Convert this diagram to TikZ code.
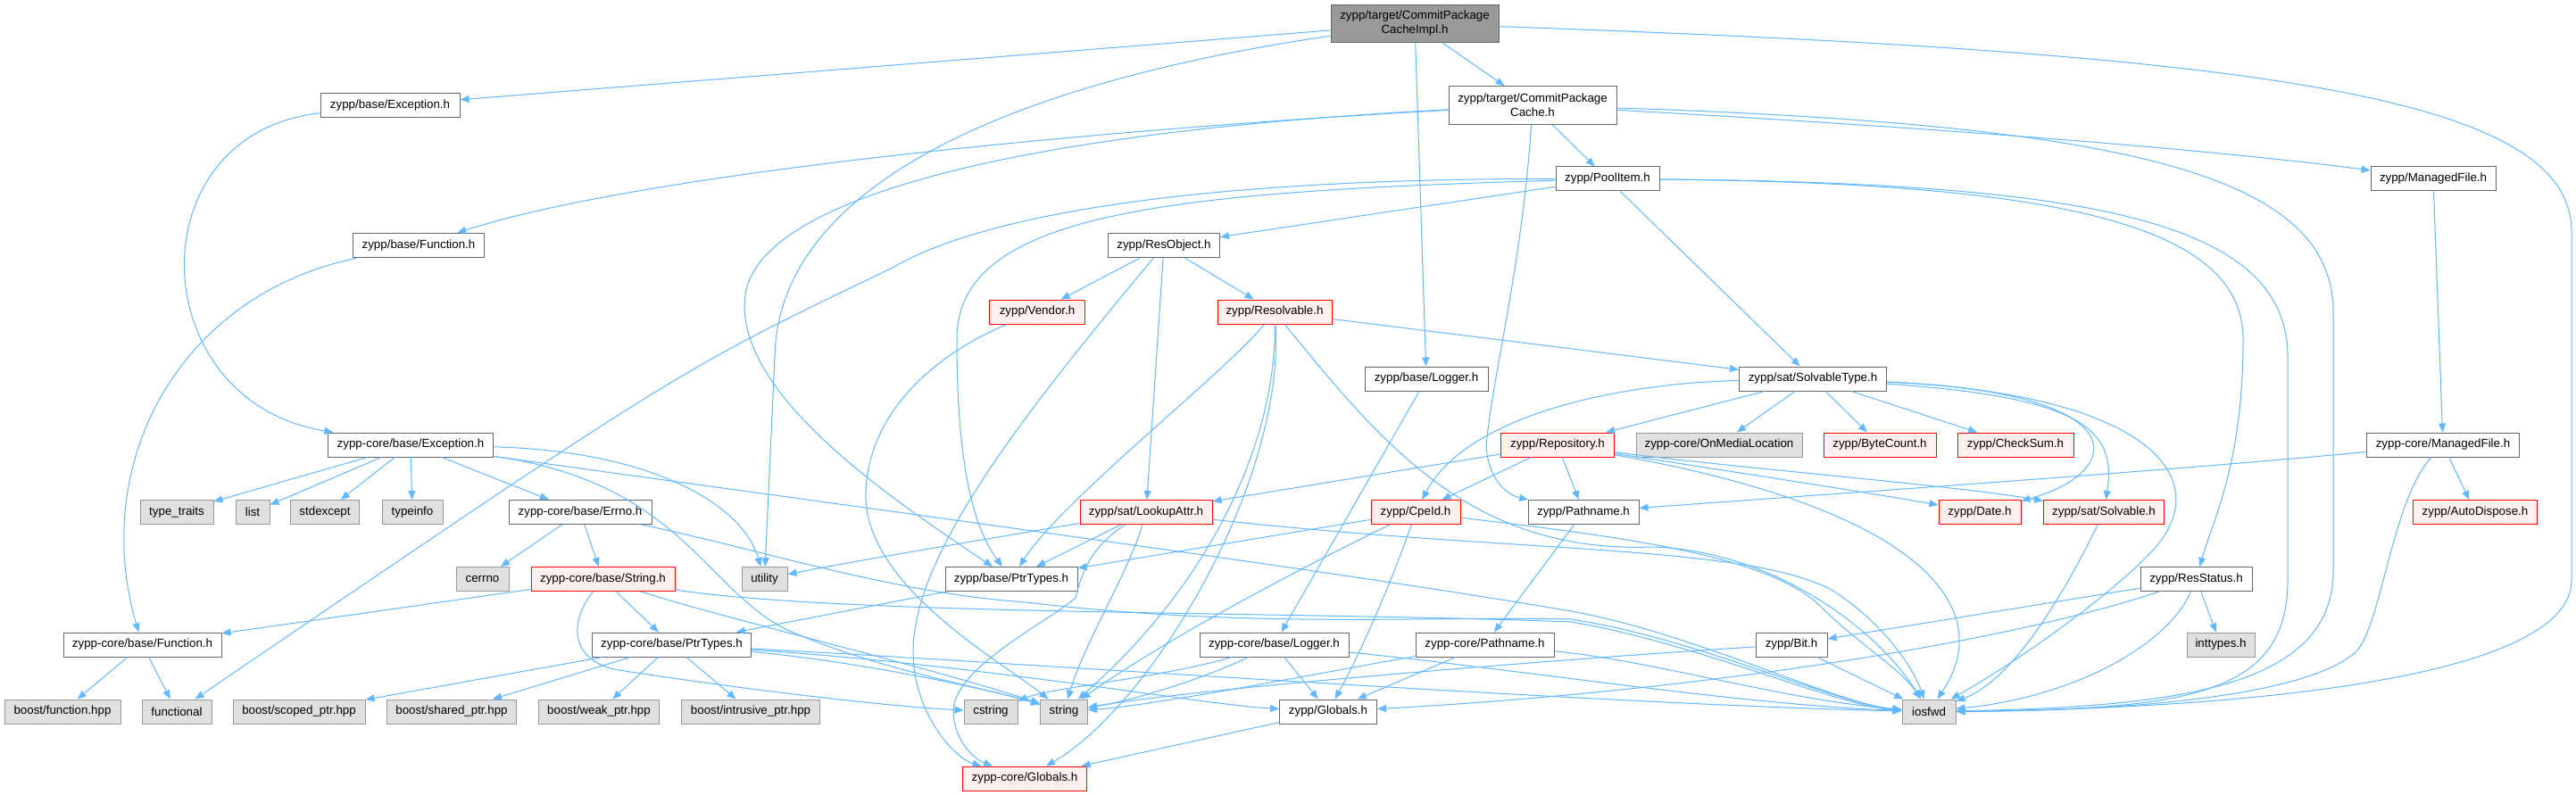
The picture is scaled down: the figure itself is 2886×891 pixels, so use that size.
\documentclass[tikz,border=0pt]{standalone}
\usepackage{fontspec}
\setmainfont{Liberation Sans}
\usepackage{xcolor}
\usetikzlibrary{arrows.meta}

\definecolor{depblue}{HTML}{63B8FF}
\definecolor{hdrline}{HTML}{666666}
\definecolor{sysline}{HTML}{999999}
\definecolor{sysfill}{HTML}{E0E0E0}
\definecolor{redfill}{HTML}{FFF0F0}
\definecolor{rootfill}{HTML}{999999}

\begin{document}
\begin{tikzpicture}[x=0.75pt,y=-0.75pt,
    hdr/.style={draw=hdrline,fill=white,line width=0.75pt,minimum width=#1*0.75pt,minimum height=20.25pt,inner xsep=3pt,inner ysep=0pt,font=\fontsize{10}{12}\selectfont},
    syshdr/.style={hdr=#1,draw=sysline,fill=sysfill},
    redhdr/.style={hdr=#1,draw=red,fill=redfill},
    twoline/.style={align=center,minimum height=32pt},
    dep/.style={draw=depblue,line width=0.75pt,-{Triangle[length=7.5pt,width=6pt]}}]

    \path[use as bounding box,fill=white] (0,0) rectangle (2886,891);

    \node[hdr=188,twoline,fill=rootfill] (IMPL) at (1585,26.5) {zypp/target/CommitPackage\\CacheImpl.h};
    \node[hdr=188,twoline] (CPC) at (1717,118) {zypp/target/CommitPackage\\Cache.h};
    \node[hdr=156] (BEXC) at (437,118) {zypp/base/Exception.h};
    \node[hdr=147] (BFUN) at (469,275) {zypp/base/Function.h};
    \node[hdr=116] (POOL) at (1801,200.5) {zypp/PoolItem.h};
    \node[hdr=140] (MFB) at (2726,200.5) {zypp/ManagedFile.h};
    \node[hdr=125] (RESOBJ) at (1304,275) {zypp/ResObject.h};
    \node[redhdr=107] (VENDOR) at (1162,349.5) {zypp/Vendor.h};
    \node[redhdr=128] (RESOLV) at (1428,349.5) {zypp/Resolvable.h};
    \node[hdr=138] (BLOG) at (1598,424.5) {zypp/base/Logger.h};
    \node[hdr=165] (SOLTYPE) at (2031,424.5) {zypp/sat/SolvableType.h};

    \node[hdr=185] (CEXC) at (460,498.5) {zypp-core/base/Exception.h};
    \node[redhdr=127] (REPO) at (1745,498.5) {zypp/Repository.h};
    \node[syshdr=186] (OML) at (1926,498.5) {zypp-core/OnMediaLocation};
    \node[redhdr=126] (BYTEC) at (2106,498.5) {zypp/ByteCount.h};
    \node[redhdr=130] (CHKSUM) at (2258,498.5) {zypp/CheckSum.h};
    \node[hdr=171] (CMF) at (2737,498.5) {zypp-core/ManagedFile.h};

    \node[syshdr=82] (TTRAITS) at (198,574) {type\_traits};
    \node[syshdr=38] (LIST) at (283,574) {list};
    \node[syshdr=77] (STDEXC) at (364,574) {stdexcept};
    \node[syshdr=68] (TINFO) at (462,574) {typeinfo};
    \node[hdr=160] (ERRNO) at (650,574) {zypp-core/base/Errno.h};
    \node[redhdr=148] (LOOKUP) at (1284,574) {zypp/sat/LookupAttr.h};
    \node[redhdr=100] (CPEID) at (1586,574) {zypp/CpeId.h};
    \node[hdr=124] (PATHB) at (1774,574) {zypp/Pathname.h};
    \node[redhdr=92] (DATE) at (2218,574) {zypp/Date.h};
    \node[redhdr=135] (SOLV) at (2357,574) {zypp/sat/Solvable.h};
    \node[redhdr=139] (AUTOD) at (2773,574) {zypp/AutoDispose.h};

    \node[syshdr=59] (CERRNO) at (540.5,649) {cerrno};
    \node[redhdr=161] (STRH) at (675.5,649) {zypp-core/base/String.h};
    \node[syshdr=51] (UTIL) at (856.5,649) {utility};
    \node[hdr=148] (BPTR) at (1133,649) {zypp/base/PtrTypes.h};
    \node[hdr=125] (RESSTAT) at (2460.5,649) {zypp/ResStatus.h};

    \node[hdr=177] (CFUN) at (159.5,722.5) {zypp-core/base/Function.h};
    \node[hdr=178] (CPTR) at (752.5,722.5) {zypp-core/base/PtrTypes.h};
    \node[hdr=167] (CLOG) at (1427.5,722.5) {zypp-core/base/Logger.h};
    \node[hdr=155] (CPATH) at (1663.5,722.5) {zypp-core/Pathname.h};
    \node[hdr=80] (BIT) at (2007,722.5) {zypp/Bit.h};
    \node[syshdr=76] (INTT) at (2488,722.5) {inttypes.h};

    \node[syshdr=130] (BFHPP) at (70,797.5) {boost/function.hpp};
    \node[syshdr=78] (FUNCT) at (198,797.5) {functional};
    \node[syshdr=148] (SCOPED) at (335,797.5) {boost/scoped\_ptr.hpp};
    \node[syshdr=145] (SHARED) at (506,797.5) {boost/shared\_ptr.hpp};
    \node[syshdr=135] (WEAK) at (671,797.5) {boost/weak\_ptr.hpp};
    \node[syshdr=155] (INTRUS) at (841,797.5) {boost/intrusive\_ptr.hpp};
    \node[syshdr=60] (CSTR) at (1110,797.5) {cstring};
    \node[syshdr=53] (STR) at (1192,797.5) {string};
    \node[hdr=109] (GLOB) at (1488,797.5) {zypp/Globals.h};
    \node[syshdr=60] (IOSFWD) at (2161,797.5) {iosfwd};

    \node[redhdr=139] (CGLOB) at (1148,872.5) {zypp-core/Globals.h};

    \draw[dep] (IMPL) -- (BEXC);
    \draw[dep] (IMPL) .. controls (1150,90) and (872,200) .. (868,400) -- (UTIL);
    \draw[dep] (IMPL) -- (BLOG);
    \draw[dep] (IMPL) -- (CPC);
    \draw[dep] (IMPL) .. controls (2550,60) and (2881,110) .. (2881,260) -- (2881,650) .. controls (2881,770) and (2450,795) .. (IOSFWD);

    \draw[dep] (CPC) .. controls (1150,150) and (700,200) .. (BFUN);
    \draw[dep] (CPC) .. controls (1100,150) and (850,230) .. (835,330) .. controls (820,440) and (1000,560) .. (BPTR);
    \draw[dep] (CPC) .. controls (1705,300) and (1672,420) .. (1665,500) .. controls (1668,540) and (1690,555) .. (PATHB);
    \draw[dep] (CPC) -- (POOL);
    \draw[dep] (CPC) .. controls (2200,145) and (2500,170) .. (MFB);
    \draw[dep] (CPC) .. controls (2400,140) and (2614,200) .. (2614,350) -- (2614,640) .. controls (2614,770) and (2440,792) .. (IOSFWD);

    \draw[dep] (BEXC) .. controls (150,150) and (160,450) .. (CEXC);
    \draw[dep] (BFUN) .. controls (200,330) and (100,520) .. (CFUN);

    \draw[dep] (POOL) .. controls (1400,200) and (1120,230) .. (1000,300) .. controls (760,415) .. (FUNCT);
    \draw[dep] (POOL) .. controls (1300,215) and (1072,240) .. (1072,380) .. controls (1072,520) and (1090,590) .. (BPTR);
    \draw[dep] (POOL) -- (RESOBJ);
    \draw[dep] (POOL) -- (SOLTYPE);
    \draw[dep] (POOL) .. controls (2300,205) and (2513,250) .. (2513,380) .. controls (2513,520) and (2480,580) .. (RESSTAT);
    \draw[dep] (POOL) .. controls (2350,205) and (2563,250) .. (2563,400) -- (2563,650) .. controls (2563,780) and (2450,795) .. (IOSFWD);

    \draw[dep] (MFB) -- (CMF);

    \draw[dep] (RESOBJ) -- (VENDOR);
    \draw[dep] (RESOBJ) -- (RESOLV);
    \draw[dep] (RESOBJ) -- (LOOKUP);
    \draw[dep] (RESOBJ) .. controls (1150,460) and (1023,620) .. (1023,730) .. controls (1023,800) and (1070,850) .. (CGLOB);

    \draw[dep] (VENDOR) .. controls (1040,400) and (968,470) .. (970,560) .. controls (975,660) and (1120,740) .. (STR);

    \draw[dep] (RESOLV) -- (SOLTYPE);
    \draw[dep] (RESOLV) .. controls (1370,420) and (1190,560) .. (BPTR);
    \draw[dep] (RESOLV) .. controls (1430,490) and (1360,650) .. (STR);
    \draw[dep] (RESOLV) .. controls (1440,540) and (1290,790) .. (CGLOB);
    \draw[dep] (RESOLV) .. controls (1550,500) and (1650,620) .. (1850,613) .. controls (1980,616) and (2100,700) .. (IOSFWD);

    \draw[dep] (BLOG) -- (CLOG);

    \draw[dep] (SOLTYPE) .. controls (1800,430) and (1640,470) .. (CPEID);
    \draw[dep] (SOLTYPE) -- (REPO);
    \draw[dep] (SOLTYPE) -- (OML);
    \draw[dep] (SOLTYPE) -- (BYTEC);
    \draw[dep] (SOLTYPE) -- (CHKSUM);
    \draw[dep] (SOLTYPE) .. controls (2400,440) and (2380,530) .. (DATE);
    \draw[dep] (SOLTYPE) .. controls (2330,445) and (2372,480) .. (SOLV);
    \draw[dep] (SOLTYPE) .. controls (2380,440) and (2475,520) .. (2425,600) .. controls (2400,640) and (2280,730) .. (IOSFWD);

    \draw[dep] (CEXC) -- (TTRAITS);
    \draw[dep] (CEXC) -- (LIST);
    \draw[dep] (CEXC) -- (STDEXC);
    \draw[dep] (CEXC) -- (TINFO);
    \draw[dep] (CEXC) -- (ERRNO);
    \draw[dep] (CEXC) .. controls (720,505) and (830,560) .. (UTIL);
    \draw[dep] (CEXC) .. controls (760,540) and (790,660) .. (880,705) .. controls (980,750) and (1100,770) .. (STR);
    \draw[dep] (CEXC) .. controls (900,560) and (1500,640) .. (1760,685) .. controls (1900,710) and (2060,790) .. (IOSFWD);

    \draw[dep] (REPO) -- (LOOKUP);
    \draw[dep] (REPO) -- (CPEID);
    \draw[dep] (REPO) -- (PATHB);
    \draw[dep] (REPO) .. controls (1950,530) and (2080,550) .. (DATE);
    \draw[dep] (REPO) .. controls (1950,525) and (2200,545) .. (SOLV);
    \draw[dep] (REPO) .. controls (2150,570) and (2240,680) .. (IOSFWD);

    \draw[dep] (CMF) .. controls (2400,530) and (2100,550) .. (PATHB);
    \draw[dep] (CMF) -- (AUTOD);
    \draw[dep] (CMF) .. controls (2680,560) and (2668,700) .. (2640,730) .. controls (2580,785) and (2350,797) .. (IOSFWD);

    \draw[dep] (LOOKUP) .. controls (1100,605) and (950,630) .. (UTIL);
    \draw[dep] (LOOKUP) -- (BPTR);
    \draw[dep] (LOOKUP) .. controls (1265,640) and (1215,720) .. (STR);
    \draw[dep] (LOOKUP) .. controls (1225,610) and (1212,640) .. (1205,670) .. controls (1170,700) and (1065,750) .. (1068,800) .. controls (1070,830) and (1090,850) .. (CGLOB);
    \draw[dep] (LOOKUP) .. controls (1700,620) and (1950,610) .. (2050,660) .. controls (2100,690) and (2140,740) .. (IOSFWD);

    \draw[dep] (CPEID) -- (BPTR);
    \draw[dep] (CPEID) .. controls (1450,640) and (1300,720) .. (STR);
    \draw[dep] (CPEID) .. controls (1560,650) and (1525,730) .. (GLOB);
    \draw[dep] (CPEID) .. controls (1800,600) and (1980,620) .. (2040,680) .. controls (2080,720) and (2130,750) .. (IOSFWD);

    \draw[dep] (PATHB) -- (CPATH);
    \draw[dep] (SOLV) .. controls (2320,650) and (2260,760) .. (IOSFWD);

    \draw[dep] (ERRNO) -- (CERRNO);
    \draw[dep] (ERRNO) -- (STRH);
    \draw[dep] (ERRNO) .. controls (850,615) and (1000,665) .. (1150,675) .. controls (1400,705) and (1600,690) .. (1760,694) .. controls (1900,715) and (2060,790) .. (IOSFWD);

    \draw[dep] (STRH) -- (CFUN);
    \draw[dep] (STRH) -- (CPTR);
    \draw[dep] (STRH) .. controls (635,700) and (640,745) .. (700,752) .. controls (850,775) and (1000,792) .. (CSTR);
    \draw[dep] (STRH) .. controls (800,690) and (1050,750) .. (STR);
    \draw[dep] (STRH) .. controls (950,690) and (1450,685) .. (1760,697) .. controls (1900,720) and (2060,792) .. (IOSFWD);

    \draw[dep] (BPTR) -- (CPTR);

    \draw[dep] (RESSTAT) -- (BIT);
    \draw[dep] (RESSTAT) .. controls (2250,720) and (1900,775) .. (GLOB);
    \draw[dep] (RESSTAT) -- (INTT);
    \draw[dep] (RESSTAT) .. controls (2430,720) and (2330,780) .. (IOSFWD);

    \draw[dep] (CFUN) -- (BFHPP);
    \draw[dep] (CFUN) -- (FUNCT);

    \draw[dep] (CPTR) -- (SCOPED);
    \draw[dep] (CPTR) -- (SHARED);
    \draw[dep] (CPTR) -- (WEAK);
    \draw[dep] (CPTR) -- (INTRUS);
    \draw[dep] (CPTR) .. controls (950,740) and (1100,770) .. (STR);
    \draw[dep] (CPTR) .. controls (1100,745) and (1350,790) .. (GLOB);
    \draw[dep] (CPTR) .. controls (1100,740) and (1800,790) .. (IOSFWD);

    \draw[dep] (CLOG) .. controls (1300,760) and (1180,770) .. (CSTR);
    \draw[dep] (CLOG) .. controls (1350,760) and (1270,785) .. (STR);
    \draw[dep] (CLOG) -- (GLOB);
    \draw[dep] (CLOG) .. controls (1700,750) and (1950,790) .. (IOSFWD);

    \draw[dep] (CPATH) .. controls (1500,750) and (1300,790) .. (STR);
    \draw[dep] (CPATH) -- (GLOB);
    \draw[dep] (CPATH) .. controls (1850,740) and (2000,785) .. (IOSFWD);

    \draw[dep] (BIT) .. controls (1800,735) and (1350,770) .. (STR);
    \draw[dep] (BIT) -- (IOSFWD);

    \draw[dep] (GLOB) -- (CGLOB);

\end{tikzpicture}
\end{document}
